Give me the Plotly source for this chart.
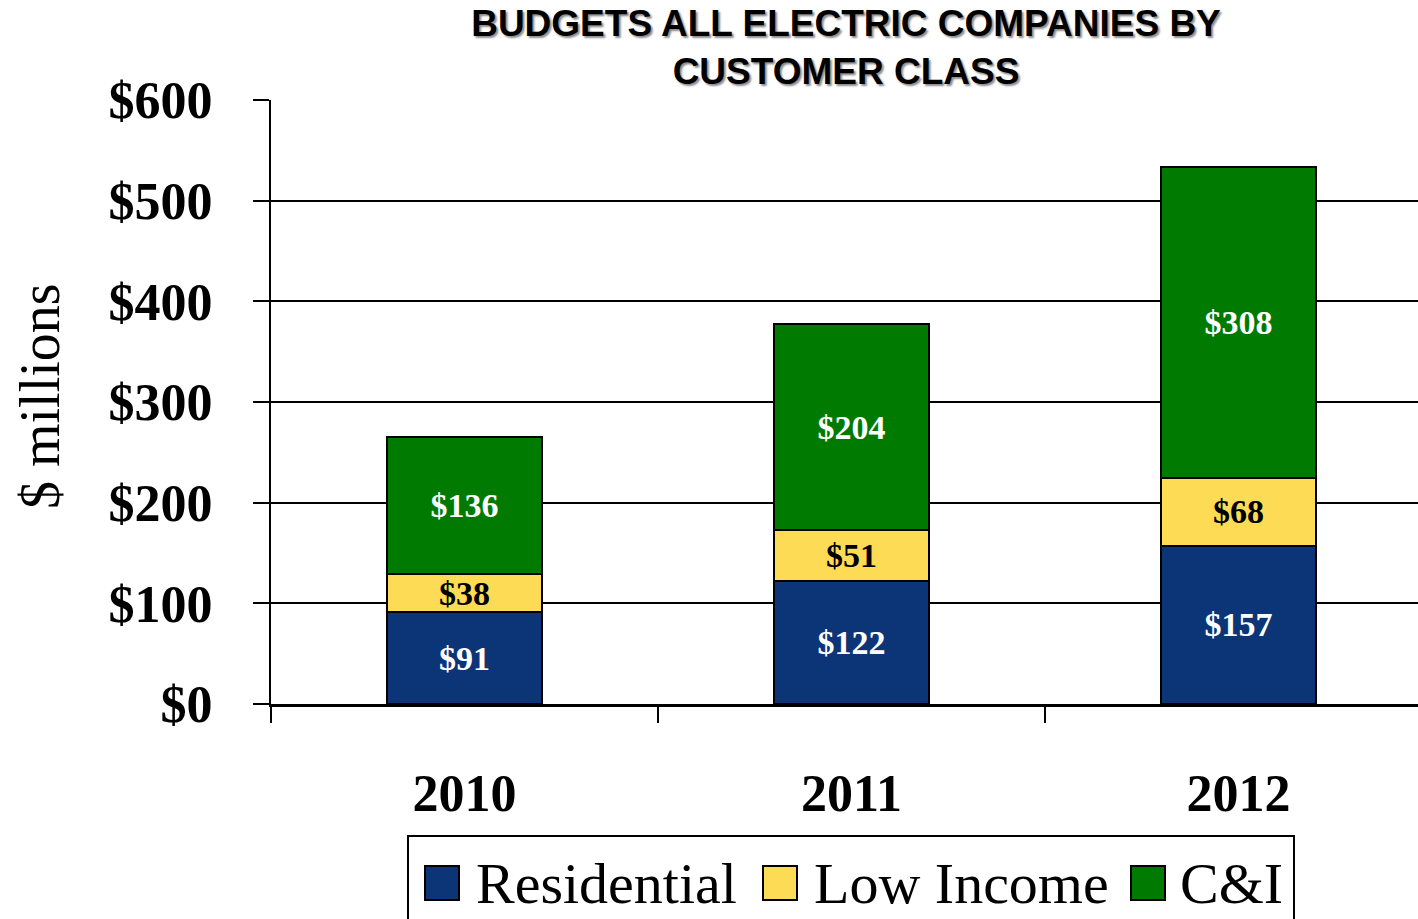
import plotly.graph_objects as go

# Budget data ($ millions) by customer class
years = ["2010", "2011", "2012"]
residential = [91, 122, 157]
low_income = [38, 51, 68]
c_and_i = [136, 204, 308]

series_names = ["Residential", "Low Income", "C&I"]
series_values = [residential, low_income, c_and_i]
series_colors = ["#0b3577", "#fedb55", "#007a00"]
label_colors = ["white", "black", "white"]

y_tick_values = [0, 100, 200, 300, 400, 500, 600]
y_tick_labels = ["$0", "$100", "$200", "$300", "$400", "$500", "$600"]

# Page geometry (pixels)
W, H = 1418, 919
PLOT_L, PLOT_R, PLOT_T, PLOT_B = 271, 1418, 100, 704


def px(x):
    return (x - PLOT_L) / (PLOT_R - PLOT_L)


def py(y):
    return (PLOT_B - y) / (PLOT_B - PLOT_T)


SERIF = "Liberation Serif"

fig = go.Figure()
for name, vals, color, tcolor in zip(series_names, series_values, series_colors, label_colors):
    fig.add_trace(go.Bar(
        x=years, y=vals, name=name,
        marker=dict(color=color, line=dict(color="black", width=2)),
        texttemplate="$%{y}", textposition="inside", insidetextanchor="middle",
        textangle=0,
        textfont=dict(family=SERIF, size=34, color=tcolor, weight="bold"),
        showlegend=False,
    ))

# Legend drawn as a boxed row of swatches and labels
legend_box = (408, 836, 1294, 945)
swatch_x = [425, 763, 1131]
label_x = [474, 812, 1178]
swatch_y0, swatch_y1 = 866, 900
shapes = [dict(type="rect", xref="paper", yref="paper",
               x0=px(legend_box[0]), x1=px(legend_box[2]),
               y0=py(legend_box[3]), y1=py(legend_box[1]),
               line=dict(color="black", width=2), fillcolor="white", layer="above")]
annotations = []
for name, color, sx, lx in zip(series_names, series_colors, swatch_x, label_x):
    shapes.append(dict(type="rect", xref="paper", yref="paper",
                       x0=px(sx), x1=px(sx + 34), y0=py(swatch_y1), y1=py(swatch_y0),
                       line=dict(color="black", width=2), fillcolor=color, layer="above"))
    annotations.append(dict(text=name, xref="paper", yref="paper",
                            x=px(lx), y=py((swatch_y0 + swatch_y1) / 2),
                            xanchor="left", yanchor="middle", showarrow=False,
                            font=dict(family=SERIF, size=58, color="black")))

# Vertical axis title
annotations.append(dict(text="$ millions", xref="paper", yref="paper",
                        x=px(40), y=py(396), xanchor="center", yanchor="middle",
                        textangle=-90, showarrow=False,
                        font=dict(family=SERIF, size=56, color="black")))

fig.update_layout(
    template="none",
    width=W, height=H,
    margin=dict(l=PLOT_L, r=W - PLOT_R, t=PLOT_T, b=H - PLOT_B, pad=0),
    paper_bgcolor="white", plot_bgcolor="white",
    barmode="stack", bargap=0.6,
    uniformtext=dict(mode="show", minsize=34),
    title=dict(
        text="BUDGETS ALL ELECTRIC COMPANIES BY<br>CUSTOMER CLASS",
        x=px(846), xref="paper", xanchor="center",
        y=1 - 36 / H, yref="container", yanchor="middle",
        font=dict(family="Liberation Sans", size=37, color="black", weight="bold",
                  shadow="2px 2px 2px rgba(0,0,0,0.45)"),
    ),
    xaxis=dict(
        type="category", range=[-0.5, 2.464],
        tickson="boundaries", ticks="outside", ticklen=16, tickwidth=2, tickcolor="black",
        showline=True, linecolor="black", linewidth=3,
        showgrid=False, zeroline=False, automargin=False,
        tickfont=dict(family=SERIF, size=52, color="black", weight="bold"),
        ticklabelstandoff=42,
    ),
    yaxis=dict(
        range=[0, 600], tickmode="array", tickvals=y_tick_values, ticktext=y_tick_labels,
        ticks="outside", ticklen=16, tickwidth=2, tickcolor="black",
        showline=True, linecolor="black", linewidth=2,
        showgrid=True, gridcolor="black", gridwidth=2, zeroline=False, automargin=False,
        tickfont=dict(family=SERIF, size=52, color="black", weight="bold"),
        ticklabelstandoff=30,
    ),
    shapes=shapes,
    annotations=annotations,
)

fig.write_html("out.html")
